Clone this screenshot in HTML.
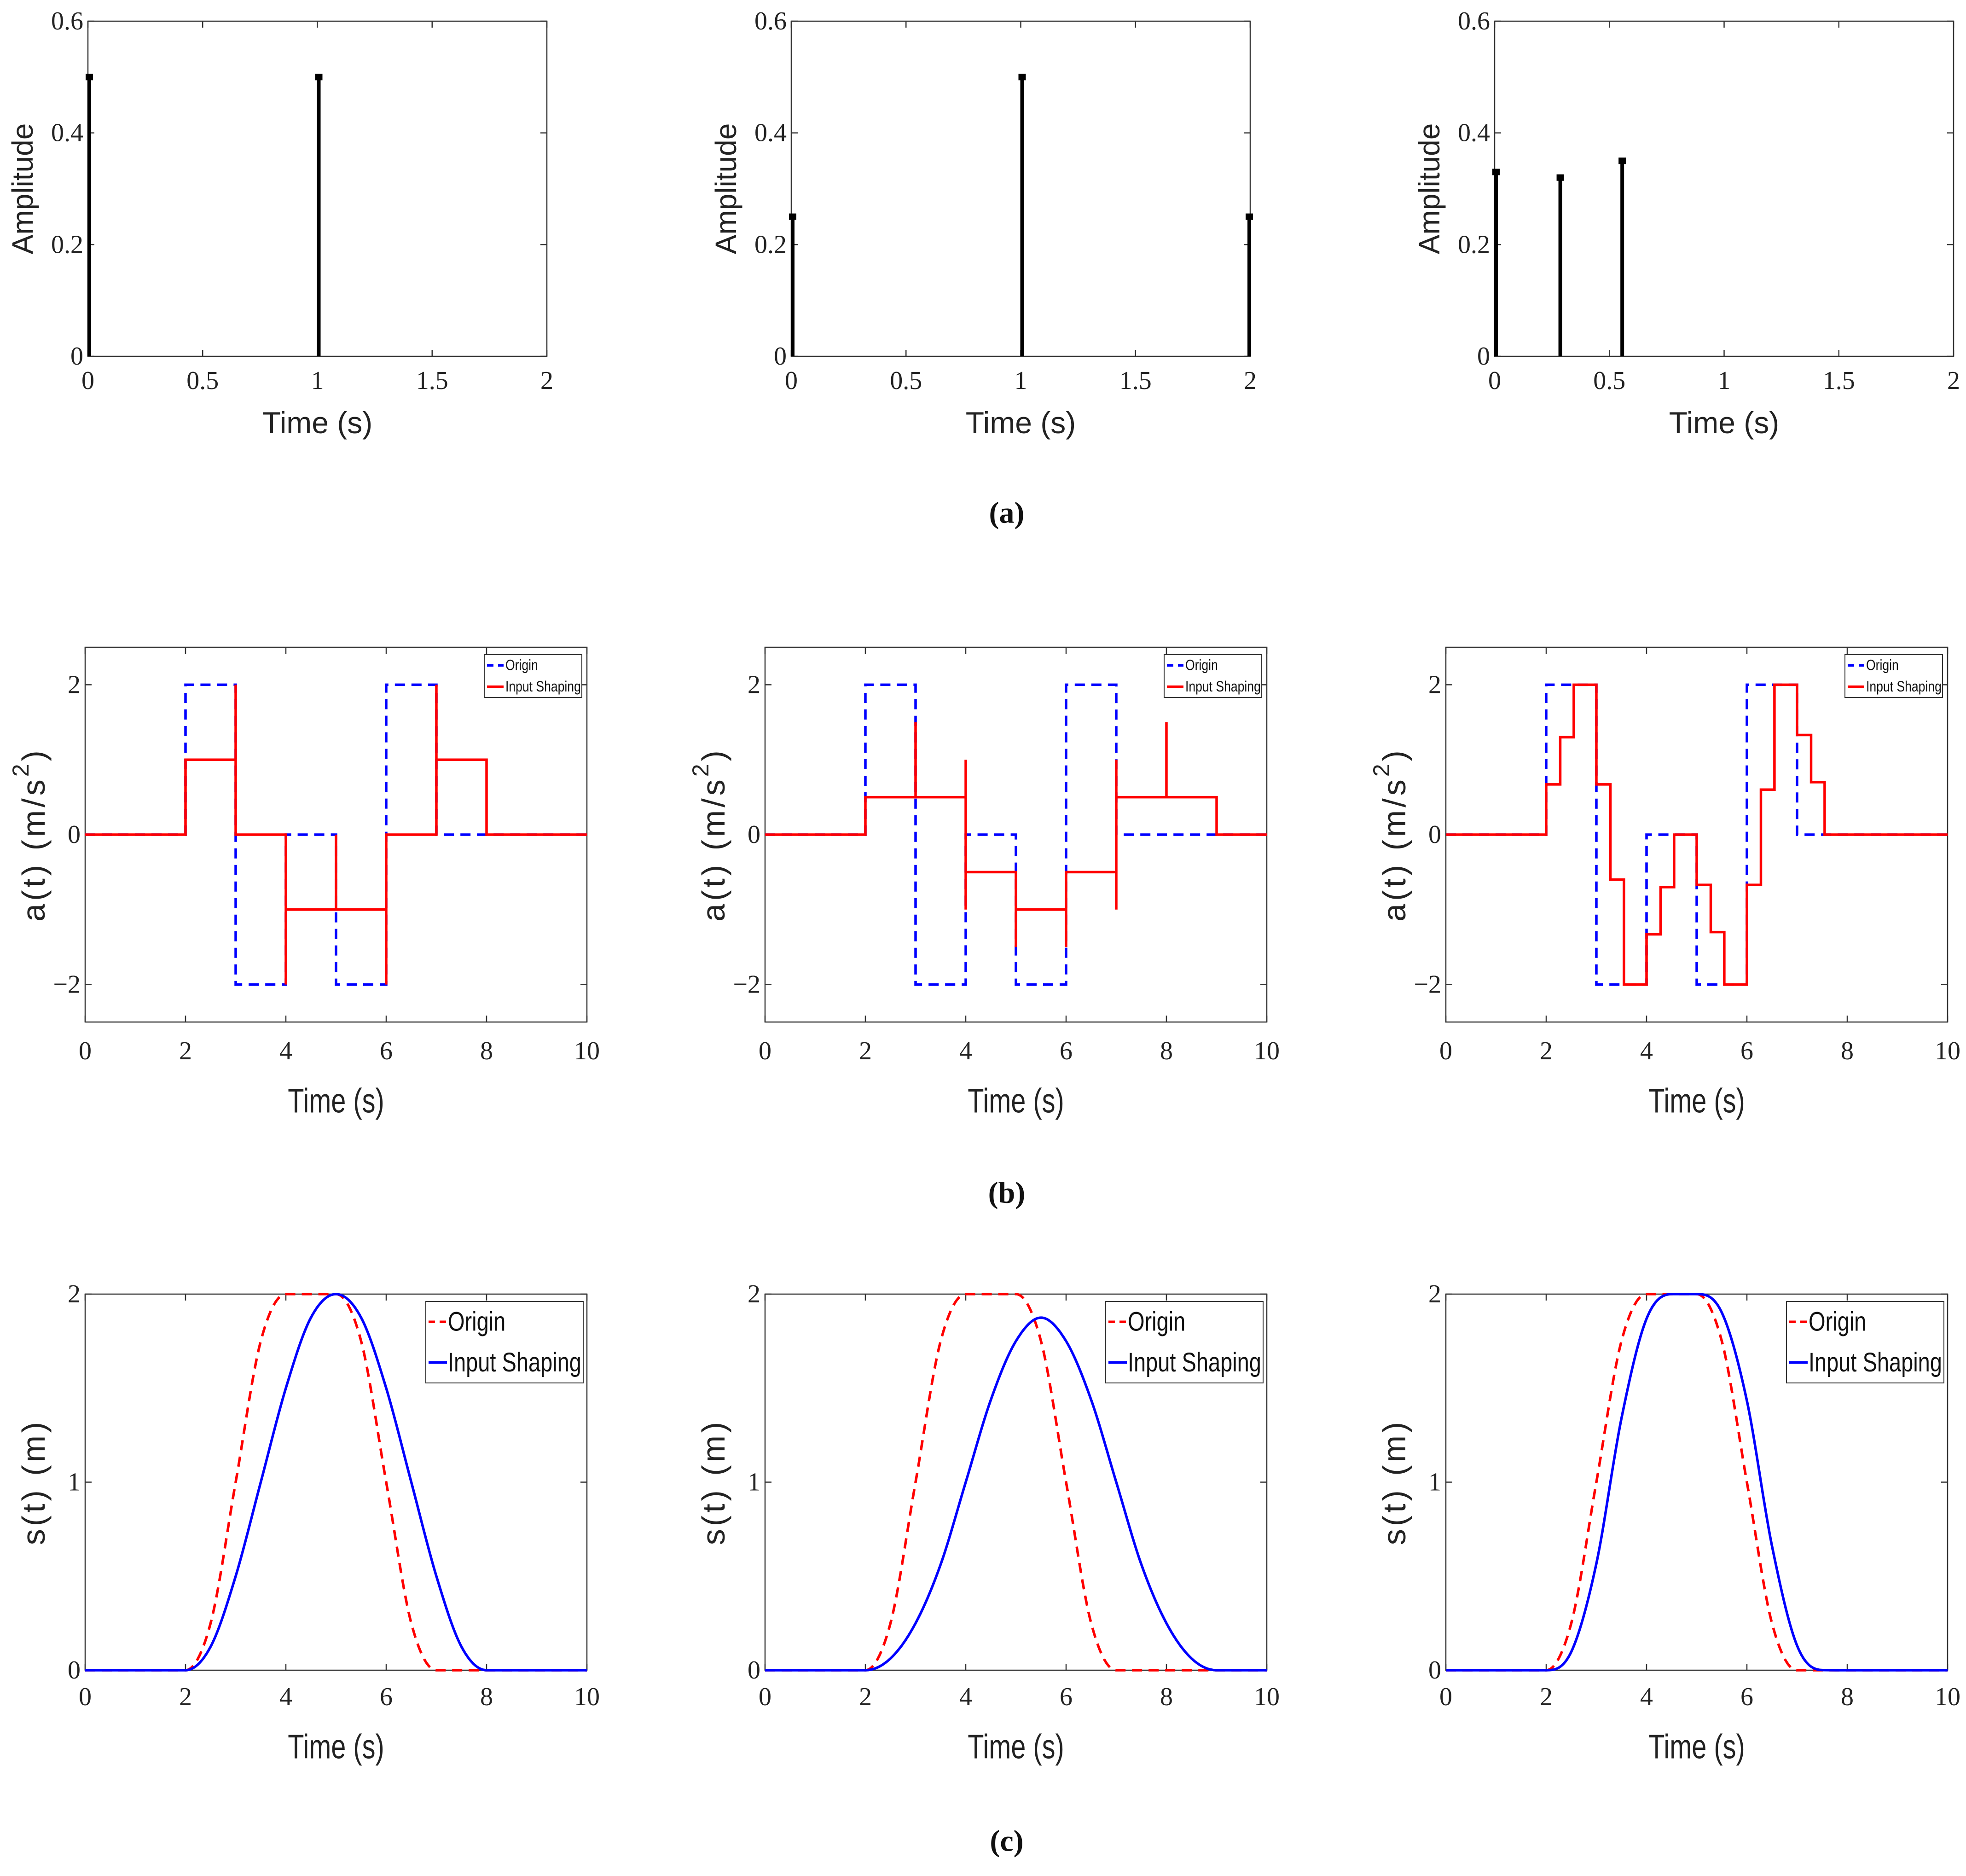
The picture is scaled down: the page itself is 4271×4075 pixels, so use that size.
<!DOCTYPE html>
<html><head><meta charset="utf-8"><style>
html,body{margin:0;padding:0;background:#fff;}
svg{display:block;}
</style></head><body>
<svg id="fig" xmlns="http://www.w3.org/2000/svg" width="4271" height="4075" viewBox="0 0 4271 4075"></svg>
<script>
// ---------- DATA ----------
const aTimes1 = [0, 1];
const aAmps1 = [0.5, 0.5];
const aTimes2 = [0, 1, 1.99];
const aAmps2 = [0.25, 0.5, 0.25];
const aTimes3 = [0, 0.28, 0.55];
const aAmps3 = [0.33, 0.32, 0.35];
const aXTicks = [0, 0.5, 1, 1.5, 2];
const aXTickLabels = ["0", "0.5", "1", "1.5", "2"];
const aYTicks = [0, 0.2, 0.4, 0.6];
const aYTickLabels = ["0", "0.2", "0.4", "0.6"];

const bOriginT = [0, 2, 2, 3, 3, 4, 4, 5, 5, 6, 6, 7, 7, 10];
const bOriginV = [0, 0, 2, 2, -2, -2, 0, 0, -2, -2, 2, 2, 0, 0];
const bShaped1T = [0, 2, 2, 3, 3, 3, 4, 4, 4, 5, 5, 5, 6, 6, 6, 7, 7, 7, 8, 8, 10];
const bShaped1V = [0, 0, 1, 1, 2, 0, 0, -2, -1, -1, 0, -1, -1, -2, 0, 0, 2, 1, 1, 0, 0];
const bShaped2T = [0, 2, 2, 3, 3, 3, 4, 4, 4, 4, 5, 5, 5, 6, 6, 6, 7, 7, 7, 7, 8, 8, 8, 9, 9, 10];
const bShaped2V = [0, 0, 0.5, 0.5, 1.5, 0.5, 0.5, 1, -1, -0.5, -0.5, -1.5, -1, -1, -1.5, -0.5, -0.5, -1, 1, 0.5, 0.5, 1.5, 0.5, 0.5, 0, 0];
const bShaped3T = [0, 2, 2, 2.28, 2.28, 2.55, 2.55, 3, 3, 3.28, 3.28, 3.55, 3.55, 4, 4, 4.28, 4.28, 4.55, 4.55, 5, 5, 5.28, 5.28, 5.55, 5.55, 6, 6, 6.28, 6.28, 6.55, 6.55, 7, 7, 7.28, 7.28, 7.55, 7.55, 10];
const bShaped3V = [0, 0, 0.67, 0.67, 1.3, 1.3, 2, 2, 0.67, 0.67, -0.6, -0.6, -2, -2, -1.33, -1.33, -0.7, -0.7, 0, 0, -0.67, -0.67, -1.3, -1.3, -2, -2, -0.67, -0.67, 0.6, 0.6, 2, 2, 1.33, 1.33, 0.7, 0.7, 0, 0];
const bXTicks = [0, 2, 4, 6, 8, 10];
const bXTickLabels = ["0", "2", "4", "6", "8", "10"];
const bYTicks = [-2, 0, 2];
const bYTickLabels = ["\u22122", "0", "2"];

const cT = [0, 1, 2, 2.5, 3, 3.5, 4, 4.5, 5, 5.5, 6, 6.5, 7, 7.5, 8, 8.5, 9, 9.5, 10];
const cOrigin = [0, 0, 0, 0.25, 1, 1.75, 2, 2, 2, 1.75, 1, 0.25, 0, 0, 0, 0, 0, 0, 0];
const cShaped1 = [0, 0, 0, 0.125, 0.5, 1.0, 1.5, 1.875, 2, 1.875, 1.5, 1.0, 0.5, 0.125, 0, 0, 0, 0, 0];
const cShaped2 = [0, 0, 0, 0.0625, 0.25, 0.5625, 1.0, 1.4375, 1.75, 1.875, 1.75, 1.4375, 1.0, 0.5625, 0.25, 0.0625, 0, 0, 0];
const cShaped3 = [0, 0, 0, 0.098, 0.567, 1.339, 1.869, 2, 2, 1.902, 1.433, 0.661, 0.131, 0.001, 0, 0, 0, 0, 0];
const cYTicks = [0, 1, 2];
const cYTickLabels = ["0", "1", "2"];

// ---------- DRAWING ----------
const NS = "http://www.w3.org/2000/svg";
const svg = document.getElementById("fig");
function mk(tag, attrs, parent) {
  const e = document.createElementNS(NS, tag);
  for (const k in attrs) e.setAttribute(k, attrs[k]);
  (parent || svg).appendChild(e);
  return e;
}
function txt(s, x, y, size, family, parent, extra) {
  const t = mk("text", Object.assign({x: x, y: y, "font-size": size, "font-family": family, "text-anchor": "middle", "dominant-baseline": "central", fill: "#222"}, extra || {}), parent);
  t.textContent = s;
  return t;
}
const SERIF = "'Liberation Serif', serif";
const SANS = "'Liberation Sans', sans-serif";

function makeAxes(name, L, T, W, H, xmin, xmax, ymin, ymax, xt, xtl, yt, ytl, opts) {
  const g = mk("g", {});
  
  
  const sx = v => L + (v - xmin) / (xmax - xmin) * W;
  const sy = v => T + H - (v - ymin) / (ymax - ymin) * H;
  const box = mk("rect", {x: L, y: T, width: W, height: H, fill: "none", stroke: "#333", "stroke-width": 2.5}, g);
  
  
  const tl = 14;
  xt.forEach((v, i) => {
    mk("line", {x1: sx(v), x2: sx(v), y1: T + H, y2: T + H - tl, stroke: "#333", "stroke-width": 2.5}, g);
    mk("line", {x1: sx(v), x2: sx(v), y1: T, y2: T + tl, stroke: "#333", "stroke-width": 2.5}, g);
    const t = txt(xtl[i], sx(v), opts.xtickY, 56, SERIF, g);
    
    
  });
  yt.forEach((v, i) => {
    mk("line", {x1: L, x2: L + tl, y1: sy(v), y2: sy(v), stroke: "#333", "stroke-width": 2.5}, g);
    mk("line", {x1: L + W, x2: L + W - tl, y1: sy(v), y2: sy(v), stroke: "#333", "stroke-width": 2.5}, g);
    const t = txt(ytl[i], L - 10, sy(v), 56, SERIF, g, {"text-anchor": "end"});
    
    
  });
  const xl = mk("text", {transform: "translate(" + (L + W / 2) + "," + opts.xlabY + ") scale(" + opts.xlabSX + ",1)", "font-size": opts.xlabFS || 66, "font-family": SANS, "text-anchor": "middle", "dominant-baseline": "central", fill: "#222"}, g);
  xl.textContent = "Time (s)";
  
  
  const yl = mk("text", {transform: "translate(" + (L - opts.ylabOff) + "," + (T + H / 2) + ") rotate(-90)", "font-size": opts.ylabFS || 64, "font-family": SANS, "text-anchor": "middle", "dominant-baseline": "central", fill: "#222", "letter-spacing": opts.ylabLS || 0}, g);
  if (opts.ylabSup) {
    yl.appendChild(document.createTextNode(opts.ylab));
    const sp = mk("tspan", {"baseline-shift": "super", "font-size": 50}, yl);
    sp.textContent = opts.ylabSup;
    const sp2 = mk("tspan", {}, yl);
    sp2.textContent = ")";
  } else yl.textContent = opts.ylab;
  
  
  return {g, sx, sy};
}

function polyline(ax, T, V, color, dash, name, smooth) {
  let d = "";
  if (!smooth) {
    T.forEach((t, i) => { d += (i ? "L" : "M") + ax.sx(t).toFixed(1) + "," + ax.sy(V[i]).toFixed(1); });
  } else {
    const P = T.map((t, i) => [ax.sx(t), ax.sy(V[i])]);
    const n = P.length, m = [], dl = [];
    for (let i = 0; i < n - 1; i++) dl.push((P[i + 1][1] - P[i][1]) / (P[i + 1][0] - P[i][0]));
    for (let i = 0; i < n; i++) {
      if (i === 0) m.push(dl[0]); else if (i === n - 1) m.push(dl[n - 2]);
      else m.push(dl[i - 1] * dl[i] <= 0 ? 0 : (dl[i - 1] + dl[i]) / 2);
    }
    for (let i = 0; i < n - 1; i++) {
      if (dl[i] === 0) { m[i] = 0; m[i + 1] = 0; continue; }
      const a = m[i] / dl[i], b = m[i + 1] / dl[i], s = a * a + b * b;
      if (s > 9) { const tt = 3 / Math.sqrt(s); m[i] = tt * a * dl[i]; m[i + 1] = tt * b * dl[i]; }
    }
    d = "M" + P[0][0] + "," + P[0][1];
    for (let i = 0; i < n - 1; i++) {
      const h = (P[i + 1][0] - P[i][0]) / 3;
      d += "C" + (P[i][0] + h) + "," + (P[i][1] + m[i] * h) + " " + (P[i + 1][0] - h) + "," + (P[i + 1][1] - m[i + 1] * h) + " " + P[i + 1][0] + "," + P[i + 1][1];
    }
  }
  const p = mk("path", {d: d, fill: "none", stroke: color, "stroke-width": 5.5, "stroke-dasharray": dash || "none", "stroke-linejoin": "miter"}, ax.g);
  
  
}

function legend(ax, L, T, W, H, w, h, fs, sx, items) {
  const g = mk("g", {}, ax.g);
  
  
  const x0 = L + W - w - (w > 300 ? 8 : 11), y0 = T + 16;
  mk("rect", {x: x0, y: y0, width: w, height: h, fill: "#fff", stroke: "#333", "stroke-width": 2}, g);
  items.forEach((it, i) => {
    const cy = y0 + h * (i + 0.5) / items.length;
    const e = mk("g", {}, g);
    
    
    mk("line", {x1: x0 + 6, x2: x0 + (w > 300 ? 46 : 42), y1: cy, y2: cy, stroke: it.c, "stroke-width": 5.5, "stroke-dasharray": it.d || "none"}, e);
    const t = mk("text", {transform: "translate(" + (x0 + (w > 300 ? 48 : 46)) + "," + cy + ") scale(" + sx + ",1)", "font-size": fs, "font-family": SANS, "dominant-baseline": "central", fill: "#111"}, e);
    t.textContent = it.t;
  });
}

const colL = [185, 1662, 3141], colW = 1090;
const aL = [191, 1719, 3247], aW = 997;

const aT = [aTimes1, aTimes2, aTimes3], aA = [aAmps1, aAmps2, aAmps3];
for (let k = 0; k < 3; k++) {
  const ax = makeAxes("impulse-plot-" + (k + 1), aL[k], 46, aW, 728, 0, 2, 0, 0.6, aXTicks, aXTickLabels, aYTicks, aYTickLabels,
    {xtickY: 827, xlabY: 918, xlabSX: 1, ylabOff: 142, ylab: "Amplitude"});
  aT[k].forEach((t, i) => {
    const st = mk("line", {x1: ax.sx(t) + 3, x2: ax.sx(t) + 3, y1: ax.sy(0), y2: ax.sy(aA[k][i]), stroke: "#000", "stroke-width": 8}, ax.g);
    
    
    mk("rect", {x: ax.sx(t) + 3 - 8, y: ax.sy(aA[k][i]) - 7, width: 16, height: 14, fill: "#000"}, ax.g);
  });
}

const bST = [bShaped1T, bShaped2T, bShaped3T], bSV = [bShaped1V, bShaped2V, bShaped3V];
for (let k = 0; k < 3; k++) {
  const ax = makeAxes("acceleration-plot-" + (k + 1), colL[k], 1406, colW, 814, 0, 10, -2.5, 2.5, bXTicks, bXTickLabels, bYTicks, bYTickLabels,
    {xtickY: 2283, xlabY: 2392, xlabSX: 0.78, xlabFS: 74, ylabOff: 112, ylabFS: 70, ylab: "a(t) (m/s", ylabSup: "2", ylabLS: 6});
  polyline(ax, bOriginT, bOriginV, "#0000ff", "22,14", "origin-line", false);
  polyline(ax, bST[k], bSV[k], "#ff0000", null, "input-shaping-line", false);
  legend(ax, colL[k], 1406, colW, 814, 212, 93, 32, 0.83, [{t: "Origin", c: "#0000ff", d: "14,10"}, {t: "Input Shaping", c: "#ff0000"}]);
}

const cS = [cShaped1, cShaped2, cShaped3];
for (let k = 0; k < 3; k++) {
  const ax = makeAxes("position-plot-" + (k + 1), colL[k], 2811, colW, 817, 0, 10, 0, 2, bXTicks, bXTickLabels, cYTicks, cYTickLabels,
    {xtickY: 3686, xlabY: 3795, xlabSX: 0.78, xlabFS: 74, ylabOff: 112, ylabFS: 70, ylab: "s(t) (m)", ylabLS: 6});
  polyline(ax, cT, cOrigin, "#ff0000", "22,14", "origin-line", true);
  polyline(ax, cT, cS[k], "#0000ff", null, "input-shaping-line", true);
  legend(ax, colL[k], 2811, colW, 817, 342, 177, 58, 0.81, [{t: "Origin", c: "#ff0000", d: "14,10"}, {t: "Input Shaping", c: "#0000ff"}]);
}

[["(a)", 1114], ["(b)", 2591], ["(c)", 3999]].forEach(c => {
  const t = mk("text", {x: 2187, y: c[1], "font-size": 66, "font-family": SERIF, "font-weight": "bold", "text-anchor": "middle", "dominant-baseline": "central", fill: "#111"});
  t.textContent = c[0];
  
  
});
</script>
</body></html>
